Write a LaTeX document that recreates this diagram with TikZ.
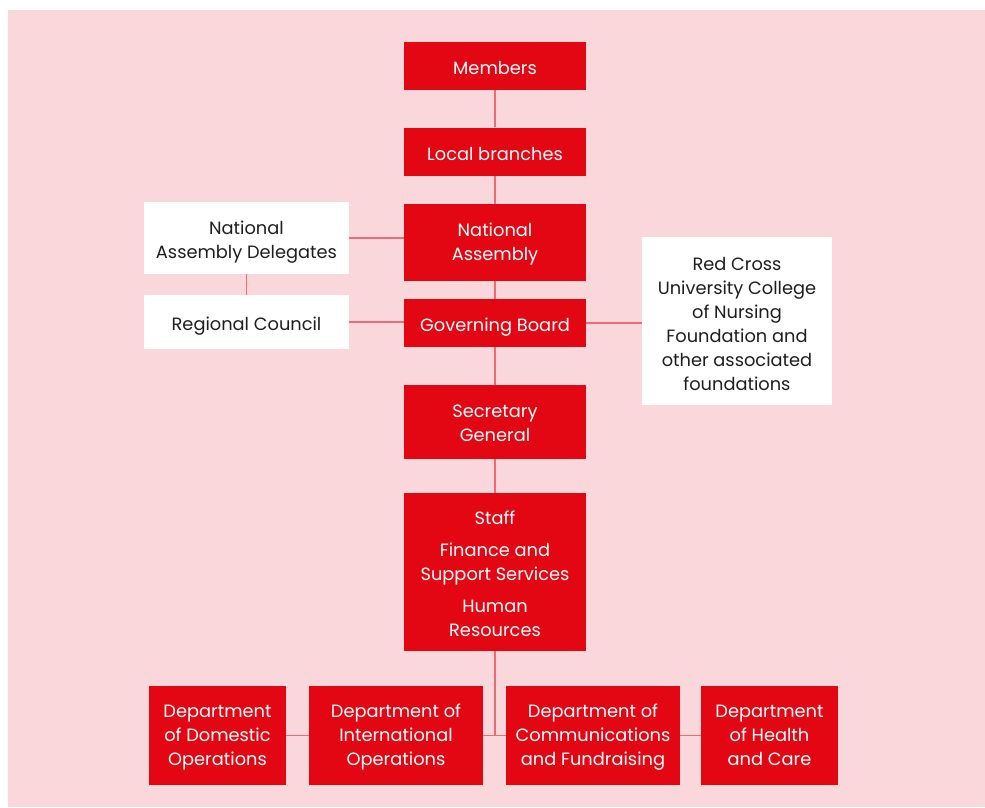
\documentclass[tikz,border=0pt]{standalone}
\usepackage{fontspec}
\setmainfont{Poppins}
\definecolor{bgpink}{HTML}{F9D7DA}
\definecolor{rcred}{HTML}{E30613}
\definecolor{linkred}{HTML}{EC6B74}
\definecolor{darktext}{HTML}{1E1E1E}
\newcommand\boxstrut{\rule[-3pt]{0pt}{24pt}}
\newcommand\tstrut[1]{\rule{0pt}{#1pt}}
\tikzset{
  boxbase/.style={inner sep=0pt, align=center,
    font=\fontsize{17.8}{24}\selectfont,
    execute at begin node=\boxstrut, execute at end node=\boxstrut},
  redbox/.style={boxbase, fill=rcred, text=white},
  whitebox/.style={boxbase, fill=white, text=darktext},
  link/.style={draw=linkred, line width=1.4pt}
}
\begin{document}
\begin{tikzpicture}[x=1pt,y=-1pt]
\useasboundingbox (0,0) rectangle (985,807);
\fill[bgpink] (8,10) rectangle (985,807);

\node[redbox, minimum width=182pt, minimum height=48pt] (mem) at (495,65.5) {Members};
\node[redbox, minimum width=182pt, minimum height=48pt] (lb) at (495,151.5) {Local branches};
\node[redbox, minimum width=182pt, minimum height=77pt] (na) at (495,242.5) {\tstrut{16}National\\Assembly};
\node[redbox, minimum width=182pt, minimum height=48pt] (gb) at (495,323) {Governing Board};
\node[redbox, minimum width=182pt, minimum height=74pt] (sg) at (495,422) {\tstrut{17}Secretary\\General};
\node[redbox, minimum width=182pt, minimum height=158pt] (staff) at (495,572)
  {\tstrut{19}Staff\\[8pt]Finance and\\Support Services\\[8pt]Human\\Resources};

\node[whitebox, minimum width=205pt, minimum height=72pt] (nad) at (246.5,238) {\tstrut{21}National\\Assembly Delegates};
\node[whitebox, minimum width=205pt, minimum height=54pt] (rc) at (246.5,322) {Regional Council};
\node[whitebox, minimum width=190pt, minimum height=168pt] (rcf) at (737,321)
  {\tstrut{21}Red Cross\\University College\\of Nursing\\Foundation and\\other associated\\foundations};

\node[redbox, minimum width=137pt, minimum height=99pt] (dom) at (217.5,735.5) {\tstrut{17}Department\\of Domestic\\Operations};
\node[redbox, minimum width=174pt, minimum height=99pt] (intl) at (396,735.5) {\tstrut{17}Department of\\International\\Operations};
\node[redbox, minimum width=174pt, minimum height=99pt] (comm) at (593,735.5) {\tstrut{17}Department of\\Communications\\and Fundraising};
\node[redbox, minimum width=137pt, minimum height=99pt] (hc) at (769.5,735.5) {\tstrut{15}Department\\of Health\\and Care};

\draw[link] (mem.south) -- (lb.north);
\draw[link] (lb.south) -- (na.north);
\draw[link] (na.south) -- (gb.north);
\draw[link] (gb.south) -- (sg.north);
\draw[link] (sg.south) -- (staff.north);
\draw[link] (nad.east) -- (nad.east -| na.west);
\draw[link] (nad.south) -- (rc.north);
\draw[link] (rc.east) -- (rc.east -| gb.west);
\draw[link] (gb.east) -- (gb.east -| rcf.west);
\draw[link] (staff.south) -- (staff.south |- intl.east);
\draw[link] (dom.east) -- (intl.west);
\draw[link] (intl.east) -- (comm.west);
\draw[link] (comm.east) -- (hc.west);
\end{tikzpicture}
\end{document}
